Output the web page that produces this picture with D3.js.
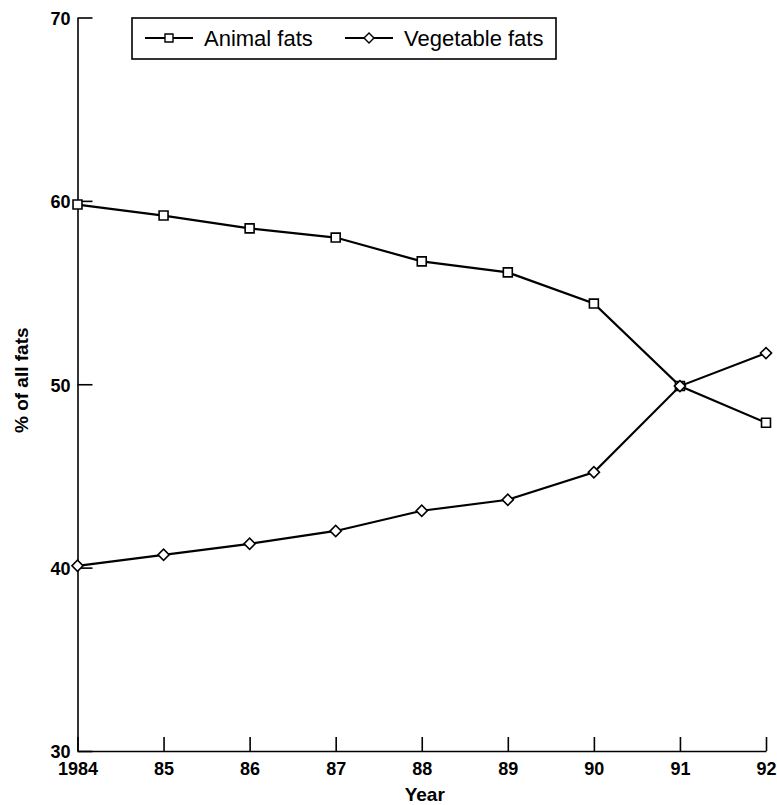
<!DOCTYPE html>
<html>
<head>
<meta charset="utf-8">
<script src="https://cdn.jsdelivr.net/npm/d3@7"></script>
<style>
  body { margin: 0; background: #fff; }
  svg { font-family: "Liberation Sans", Arial, sans-serif; }
</style>
</head>
<body>
<div id="chart"></div>
<script>
// data
const years = [1984, 1985, 1986, 1987, 1988, 1989, 1990, 1991, 1992]
const yearLabels = ["1984", "85", "86", "87", "88", "89", "90", "91", "92"]
const animalFats = [59.8, 59.2, 58.5, 58.0, 56.7, 56.1, 54.4, 49.9, 47.9]
const vegetableFats = [40.1, 40.7, 41.3, 42.0, 43.1, 43.7, 45.2, 49.9, 51.7]
const yTicks = [30, 40, 50, 60, 70]

let margin = { top: 17.5, right: 11, bottom: 54, left: 77.5 }
let width = 777 - margin.left - margin.right
let height = 805 - margin.top - margin.bottom

let svg = d3.select("#chart")
    .append("svg")
    .attr("width", 777)
    .attr("height", 805)
    .append("g")
    .attr("transform", "translate(" + margin.left + "," + margin.top + ")")

let x = d3.scaleLinear()
    .domain([1984, 1992])
    .range([0, width])

let y = d3.scaleLinear()
    .domain([30, 70])
    .range([height, 0])

// X axis, ticks pointing inward
let xAxis = svg.append("g")
    .attr("transform", "translate(0," + height + ")")
    .call(d3.axisBottom(x)
        .tickValues(years)
        .tickFormat((d, i) => yearLabels[i])
        .tickSize(-14)
        .tickSizeOuter(0)
        .tickPadding(11))
xAxis.selectAll("text")
    .attr("font-size", 18)
    .attr("font-weight", "bold")
    .attr("fill", "#000")
    .attr("font-family", "Liberation Sans, Arial, sans-serif")

// Y axis
let yAxis = svg.append("g")
    .call(d3.axisLeft(y)
        .tickValues(yTicks)
        .tickSize(-15)
        .tickSizeOuter(0)
        .tickPadding(7))
yAxis.selectAll("text")
    .attr("font-size", 18)
    .attr("font-weight", "bold")
    .attr("fill", "#000")
    .attr("dy", "0.38em")
    .attr("font-family", "Liberation Sans, Arial, sans-serif")

svg.selectAll(".domain, .tick line")
    .attr("stroke", "#000")
    .attr("stroke-width", 1.6)

// axis titles
svg.append("text")
    .attr("transform", "rotate(-90)")
    .attr("x", -(y(50) - 4))
    .attr("y", 28 - margin.left)
    .attr("text-anchor", "middle")
    .attr("font-size", 19)
    .attr("font-weight", "bold")
    .text("% of all fats")

svg.append("text")
    .attr("x", x(1988) + 3)
    .attr("y", height + 50)
    .attr("text-anchor", "middle")
    .attr("font-size", 19)
    .attr("font-weight", "bold")
    .text("Year")

const series = [
    { name: "Animal fats", values: animalFats, rotate: 0, size: 80 },
    { name: "Vegetable fats", values: vegetableFats, rotate: 45, size: 62 }
]

let line = d3.line()
    .x((d, i) => x(years[i]))
    .y(d => y(d))

series.forEach(s => {
    svg.append("path")
        .attr("fill", "none")
        .attr("stroke", "#000")
        .attr("stroke-width", 2.2)
        .attr("d", line(s.values))

    svg.selectAll(null)
        .data(s.values)
        .enter()
        .append("path")
        .attr("transform", (d, i) => "translate(" + x(years[i]) + "," + y(d) + ") rotate(" + s.rotate + ")")
        .attr("d", d3.symbol().type(d3.symbolSquare).size(s.size))
        .attr("fill", "#fff")
        .attr("stroke", "#000")
        .attr("stroke-width", 1.6)
})

// legend
let legend = svg.append("g")
    .attr("transform", "translate(" + (132 - margin.left) + "," + (18 - margin.top) + ")")

legend.append("rect")
    .attr("width", 424)
    .attr("height", 41)
    .attr("fill", "#fff")
    .attr("stroke", "#000")
    .attr("stroke-width", 1.6)

const legendX = [13, 213]
series.forEach((s, i) => {
    let g = legend.append("g").attr("transform", "translate(" + legendX[i] + ",20)")
    g.append("line")
        .attr("x1", 0).attr("x2", 48)
        .attr("stroke", "#000")
        .attr("stroke-width", 2)
    g.append("path")
        .attr("transform", "translate(24,0) rotate(" + s.rotate + ")")
        .attr("d", d3.symbol().type(d3.symbolSquare).size(s.size * 0.8))
        .attr("fill", "#fff")
        .attr("stroke", "#000")
        .attr("stroke-width", 1.4)
    g.append("text")
        .attr("x", 59)
        .attr("y", 8)
        .attr("font-size", 22)
        .text(s.name)
})
</script>
</body>
</html>
